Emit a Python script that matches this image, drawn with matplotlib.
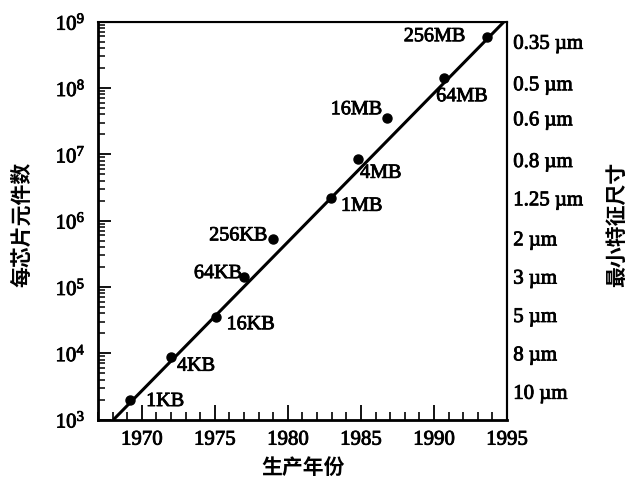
import matplotlib
matplotlib.use("Agg")
import matplotlib.pyplot as plt
import matplotlib.patheffects as pe
from matplotlib.ticker import MultipleLocator, LogLocator, NullFormatter, NullLocator

# memory generations: year of production and components per chip
years = [1969.2, 1972.0, 1975.05, 1977.0, 1979.0, 1982.95, 1984.8, 1986.8, 1990.7, 1993.65]
counts = [2.0e3, 8.7e3, 3.55e4, 1.43e5, 5.3e5, 2.17e6, 8.4e6, 3.56e7, 1.43e8, 5.94e8]
chip_labels = ["1KB", "4KB", "16KB", "64KB", "256KB", "1MB", "4MB", "16MB", "64MB", "256MB"]

# fitted trend line
trend_years = [1968.07, 1994.8]
trend_counts = [1e3, 1e9]

# minimum feature size, shown on the right hand side
feature_labels = ["10 \u00b5m", "8 \u00b5m", "5 \u00b5m", "3 \u00b5m", "2 \u00b5m",
                  "1.25 \u00b5m", "0.8 \u00b5m", "0.6 \u00b5m", "0.5 \u00b5m", "0.35 \u00b5m"]
feature_pos = [2.62e3, 9.95e3, 3.77e4, 1.43e5, 5.4e5,
               2.17e6, 8.2e6, 3.49e7, 1.18e8, 4.99e8]

# label placement (offset in pixels, horizontal alignment)
label_offsets = [(16, -2, "left"), (6, -9, "left"), (11, -8, "left"), (-2, 3, "right"),
                 (-6, 3, "right"), (10, -8, "left"), (2, -14, "left"), (-5, 8, "right"),
                 (-8, -19, "left"), (-22, 0, "right")]

plt.rcParams["font.family"] = ["Liberation Serif", "DejaVu Serif"]
plt.rcParams["mathtext.fontset"] = "custom"
plt.rcParams["mathtext.rm"] = "Liberation Serif"
plt.rcParams["mathtext.it"] = "Liberation Serif:italic"

# slightly heavier strokes, like the printed original
heavy = [pe.withStroke(linewidth=0.6, foreground="black")]

fig = plt.figure(figsize=(6.3, 4.79), dpi=100)
ax = fig.add_axes([98 / 630, 59.5 / 479, 409 / 630, 397.8 / 479])

ax.set_yscale("log")
ax.set_xlim(1967, 1995)
ax.set_ylim(1e3, 1e9)

ax.plot(trend_years, trend_counts, color="black", lw=2.2, solid_capstyle="butt")
ax.plot(years, counts, "o", color="black", ms=6.5)

for x, y, lab, (dx, dy, ha) in zip(years, counts, chip_labels, label_offsets):
    ax.annotate(lab, (x, y), xytext=(dx, dy), textcoords="offset pixels",
                ha=ha, va="center", fontsize=14.5, path_effects=heavy)

ax.xaxis.set_major_locator(MultipleLocator(5))
ax.xaxis.set_minor_locator(MultipleLocator(1))
ax.yaxis.set_major_locator(LogLocator(base=10, numticks=10))
ax.yaxis.set_minor_locator(LogLocator(base=10, subs=range(2, 10), numticks=20))
ax.yaxis.set_minor_formatter(NullFormatter())

ax.tick_params(axis="x", which="major", direction="in", length=10.5, width=1.3,
               labelsize=15, pad=8, top=False)
ax.tick_params(axis="x", which="minor", direction="in", length=6, width=1.2, top=False)
ax.tick_params(axis="y", which="major", direction="in", length=9.5, width=1.3,
               labelsize=15, pad=9, right=False)
ax.tick_params(axis="y", which="minor", direction="in", length=5, width=1.1, right=False)

for side in ["left", "bottom"]:
    ax.spines[side].set_linewidth(2.0)
for side in ["top", "right"]:
    ax.spines[side].set_linewidth(1.5)

# right side: feature size labels
ax2 = ax.twinx()
ax2.set_yscale("log")
ax2.set_ylim(1e3, 1e9)
ax2.set_yticks(feature_pos)
ax2.set_yticklabels(feature_labels)
ax2.yaxis.set_minor_locator(NullLocator())
ax2.tick_params(axis="y", length=0, pad=4.5, labelsize=15)
ax2.spines["right"].set_linewidth(1.5)

for t in ax.get_xticklabels() + ax.get_yticklabels() + ax2.get_yticklabels():
    t.set_path_effects(heavy)
for a in (ax, ax2):
    a.xaxis.offsetText.set_visible(False)
    a.yaxis.offsetText.set_visible(False)

cjk = ["Noto Sans CJK SC", "DejaVu Sans"]
fig.text(303 / 630, 1 - 467 / 479, "生产年份", family=cjk, weight="bold",
         fontsize=15, ha="center", va="center")
fig.text(22 / 630, 1 - 224 / 479, "每芯片元件数", family=cjk, weight="bold",
         fontsize=15, rotation=90, ha="center", va="center")
fig.text(617 / 630, 1 - 224 / 479, "最小特征尺寸", family=cjk, weight="bold",
         fontsize=15, rotation=90, ha="center", va="center")

fig.savefig("out.png", dpi=100)
